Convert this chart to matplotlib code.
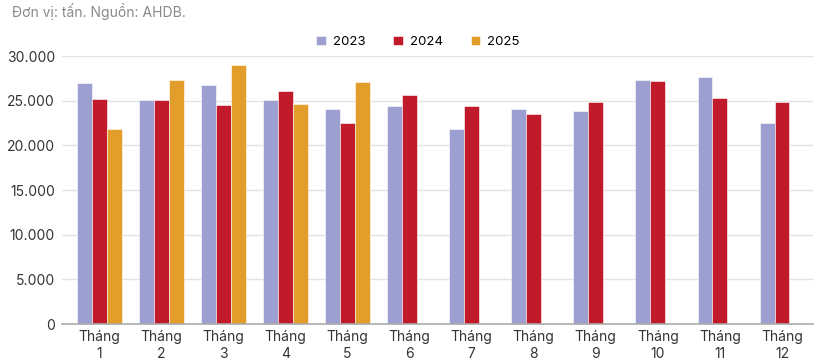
import numpy as np
import matplotlib.pyplot as plt
from matplotlib.ticker import FuncFormatter

plt.rcParams['font.family'] = ['Inter', 'DejaVu Sans']

months = ['Tháng\n%d' % m for m in range(1, 13)]
years = ['2023', '2024', '2025']
v2023 = [27000, 25100, 26700, 25100, 24050, 24350, 21850, 24050, 23800, 27300, 27700, 22550]
v2024 = [25200, 25050, 24550, 26100, 22550, 25600, 24450, 23500, 24850, 27150, 25300, 24850]
v2025 = [21850, 27300, 29000, 24600, 27050, np.nan, np.nan, np.nan, np.nan, np.nan, np.nan, np.nan]
colors = ['#9d9fd0', '#c11a2b', '#e29d2a']

fig = plt.figure(figsize=(8.29, 3.61), dpi=100)
ax = fig.add_axes([62 / 829, 37 / 361, 751 / 829, 268 / 361])

x = np.arange(len(months))
bar_width = 0.24
for i, (vals, year) in enumerate(zip([v2023, v2024, v2025], years)):
    ax.bar(x + (i - 1) * bar_width, vals, bar_width, color=colors[i], label=year,
           edgecolor='white', linewidth=0.4, zorder=3)

ax.set_xlim(-0.6, 11.5)
ax.set_ylim(0, 30000)
ax.set_yticks(range(0, 30001, 5000))
ax.yaxis.set_major_formatter(FuncFormatter(lambda v, p: f'{int(v):,}'.replace(',', '.')))
ax.set_xticks(x)
ax.set_xticklabels(months, fontsize=10, color='#333333', linespacing=1.3)
ax.tick_params(axis='y', labelsize=10, labelcolor='#333333', length=0, pad=5)
ax.tick_params(axis='x', length=0, pad=4)
ax.grid(axis='y', color='#e3e3e3', linewidth=1, zorder=0)
for s in ['top', 'right', 'left']:
    ax.spines[s].set_visible(False)
ax.spines['bottom'].set_color('#aaaaaa')
ax.spines['bottom'].set_linewidth(1.2)
ax.spines['bottom'].set_zorder(4)

ax.legend(loc='center', bbox_to_anchor=(418 / 829, 1 - 42 / 361), bbox_transform=fig.transFigure,
          ncol=3, frameon=False, fontsize=9.5, handlelength=0.75, handleheight=0.75,
          columnspacing=2.1, handletextpad=0.5)
fig.text(12 / 829, 1 - 12 / 361, 'Đơn vị: tấn. Nguồn: AHDB.', fontsize=10, color='#8a8a8a',
         va='center', ha='left')

fig.savefig('out.png', dpi=100)
